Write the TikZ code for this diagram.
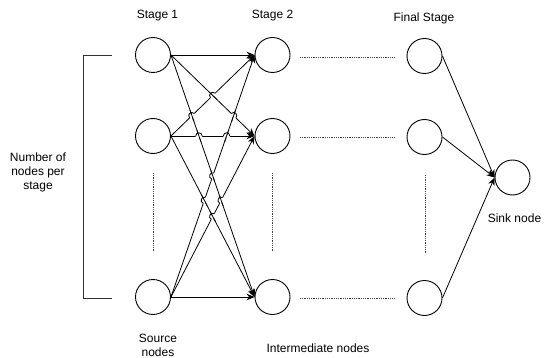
\documentclass[tikz,border=0pt]{standalone}
\usepackage{fontspec}
\setmainfont{Liberation Sans}
\usetikzlibrary{arrows.meta,calc}
\newcommand\hopover[4]{%
  \coordinate (X) at (intersection of #1--#2 and #3--#4);
  \draw[white, line width=2.6pt] ($(X)!3.2pt!(#1)$) -- ($(X)!3.2pt!(#2)$);
  \draw[conn] ($(X)!6pt!(#3)$) -- ($(X)!6pt!(#4)$);
  \draw[conn] ($(X)!3.2pt!(#1)$) to[bend left=90, looseness=1.7] ($(X)!3.2pt!(#2)$);
}
\begin{document}
\begin{tikzpicture}[x=1pt,y=-1pt,
  st/.style={circle,draw,line width=0.9pt,minimum size=35pt,inner sep=0pt},
  conn/.style={line width=0.8pt},
  arr/.style={conn,-{Stealth[length=8pt,width=6.5pt]}},
  dots/.style={line width=0.8pt,dash pattern=on 1pt off 0.8pt,black!75},
  lbl/.style={font=\fontsize{12}{14}\selectfont,align=center,inner sep=0pt}]
\useasboundingbox (0,0) rectangle (548,358);
% nodes
\node[st] (s1) at (153,55) {};
\node[st] (s2) at (153,136) {};
\node[st] (s3) at (153,297) {};
\node[st] (t1) at (272.5,55) {};
\node[st] (t2) at (272.5,136) {};
\node[st] (t3) at (272.5,297) {};
\node[st] (f1) at (424.5,56) {};
\node[st] (f2) at (424.5,137) {};
\node[st] (f3) at (424.5,298) {};
\node[st] (sk) at (512.5,177.5) {};
% labels
\node[lbl,anchor=base] (l1) at (157.5,18.5) {Stage 1};
\node[lbl,anchor=base] (l2) at (272.5,18.5) {Stage 2};
\node[lbl,anchor=base] (l3) at (424,21.5) {Final Stage};
\node[lbl,anchor=base] (l4) at (514.5,222) {Sink node};
\node[lbl,anchor=base] (l5) at (318,352) {Intermediate nodes};
\node[lbl] (l6) at (158,345) {Source\\nodes};
\node[lbl] (l7) at (38,172) {Number of\\nodes per\\stage};
% bracket
\coordinate (bt) at (112,55);
\coordinate (bb) at (112,298);
\draw[line width=0.9pt,black!80] (bt) -- (83,55) -- (83,298) -- (bb);
% dotted lines
\coordinate (d1a) at (300,57);  \coordinate (d1b) at (395,57);
\coordinate (d2a) at (300,137); \coordinate (d2b) at (395,137);
\coordinate (d3a) at (300,298); \coordinate (d3b) at (395,298);
\draw[dots] (d1a) -- (d1b);
\draw[dots] (d2a) -- (d2b);
\draw[dots] (d3a) -- (d3b);
\coordinate (v1a) at (153,173);   \coordinate (v1b) at (153,251);
\coordinate (v2a) at (272.5,173); \coordinate (v2b) at (272.5,251);
\coordinate (v3a) at (425,175);   \coordinate (v3b) at (425,253);
\draw[dots] (v1a) -- (v1b);
\draw[dots] (v2a) -- (v2b);
\draw[dots] (v3a) -- (v3b);
% edges stage 1 -> stage 2
\foreach \i in {1,2,3}{
  \foreach \j in {1,2,3}{
    \draw[arr] (s\i.east) -- (t\j.west);
  }
}
% line jumps
\hopover{s2.east}{t1.west}{s1.east}{t2.west}
\hopover{s2.east}{t1.west}{s1.east}{t3.west}
\hopover{s1.east}{t2.west}{s3.east}{t1.west}
\hopover{s2.east}{t2.west}{s1.east}{t3.west}
\hopover{s2.east}{t2.west}{s3.east}{t1.west}
\hopover{s3.east}{t1.west}{s1.east}{t3.west}
\hopover{s3.east}{t1.west}{s2.east}{t3.west}
\hopover{s3.east}{t2.west}{s1.east}{t3.west}
\hopover{s3.east}{t2.west}{s2.east}{t3.west}
% final -> sink
\draw[arr] (f1.east) -- (sk.west);
\draw[arr] (f2.east) -- (sk.west);
\draw[arr] (f3.east) -- (sk.west);
\end{tikzpicture}
\end{document}
